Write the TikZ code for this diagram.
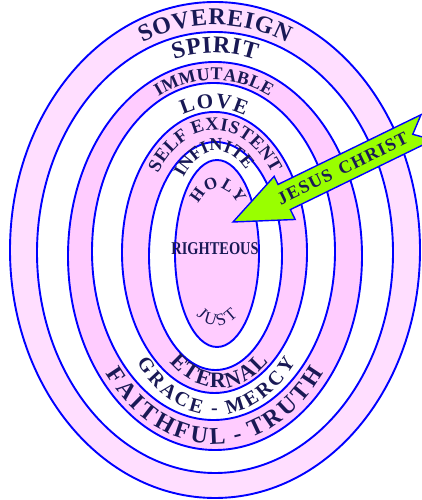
\documentclass[tikz,border=0pt]{standalone}
\usepackage{fontspec}
\setmainfont{Liberation Serif}
\usetikzlibrary{decorations.text}
\definecolor{lblue}{RGB}{0,0,255}
\definecolor{pinkA}{RGB}{255,222,255}
\definecolor{pinkB}{RGB}{255,204,255}
\definecolor{navy}{RGB}{25,25,85}
\definecolor{lime}{RGB}{153,255,0}
\newdimen\lsp
\newcommand\kk{\kern\lsp}
\newcommand\tfmt[2]{\color{navy}#1\fontsize{#2}{#2}\selectfont}
\tikzset{
  ring/.style={draw=lblue, line width=1.9pt},
  ctext/.style={decorate, decoration={text along path, text align=center, text={#1}}},
  arrowbox/.style={draw=lblue, fill=lime, line width=1.4pt, line join=miter},
  arrowtext/.style={text=navy, font=\bfseries\fontsize{18}{18}\selectfont\addfontfeatures{LetterSpace=7}, inner sep=0pt},
  midtext/.style={text=navy, font=\bfseries\fontsize{18}{18}\selectfont, inner sep=0pt}
}
\begin{document}
\begin{tikzpicture}[x=1pt,y=1pt]
\useasboundingbox (0,0) rectangle (422,500);
\clip (0,0) rectangle (422,500);
% rings
\path[ring, fill=pinkA] (215,250) ellipse [x radius=205pt, y radius=248pt];
\path[ring, fill=white] (215,247.5) ellipse [x radius=178pt, y radius=220.5pt];
\path[ring, fill=pinkB] (215,244) ellipse [x radius=147pt, y radius=194pt];
\path[ring, fill=white] (213.5,248.5) ellipse [x radius=121.5pt, y radius=168.5pt];
\path[ring, fill=pinkB] (214.5,247.5) ellipse [x radius=92.5pt, y radius=140.5pt];
\path[ring, fill=white] (215.5,244) ellipse [x radius=66.5pt, y radius=114pt];
\path[ring, fill=pinkB] (217,246.5) ellipse [x radius=42pt, y radius=93.5pt];
% top texts
\lsp=0.8pt
\path[ctext={|\tfmt{\bfseries}{24}|{S\kk}{O\kk}{V\kk}{E\kk}{R\kk}{E\kk}{I\kk}{G\kk}N}] (215-184,249) arc[start angle=180, end angle=0, x radius=184pt, y radius=226pt];
\lsp=0.6pt
\path[ctext={|\tfmt{\bfseries}{24}|{S\kk}{P\kk}{I\kk}{R\kk}{I\kk}T}] (215-155,246) arc[start angle=180, end angle=0, x radius=155pt, y radius=201pt];
\lsp=0.3pt
\path[ctext={|\tfmt{\bfseries}{18}|{I\kk}{M\kk}{M\kk}{U\kk}{T\kk}{A\kk}{B\kk}{L\kk}E}] (214-130,248) arc[start angle=180, end angle=0, x radius=130pt, y radius=172pt];
\lsp=1.5pt
\path[ctext={|\tfmt{\bfseries}{21}|{L\kk}{O\kk}{V\kk}E}] (214-98,248) arc[start angle=180, end angle=0, x radius=98pt, y radius=144pt];
\lsp=0.6pt
\path[ctext={|\tfmt{\bfseries}{18.5}|{S\kk}{E\kk}{L\kk}{F\kk} {E\kk}{X\kk}{I\kk}{S\kk}{T\kk}{E\kk}{N\kk}T}] (215-75,246) arc[start angle=180, end angle=0, x radius=75pt, y radius=124pt];
\lsp=0pt
\path[ctext={|\tfmt{\bfseries}{18}|{I\kk}{N\kk}{F\kk}{I\kk}{N\kk}{I\kk}{T\kk}E}] (217-48,246) arc[start angle=185, end angle=0, x radius=48pt, y radius=95pt];
\lsp=1pt
\path[ctext={|\tfmt{\bfseries}{17}|{H\kk}{O\kk}{L\kk}Y}] (218-30,246) arc[start angle=180, end angle=0, x radius=30pt, y radius=66pt];
% bottom texts
\lsp=3pt
\path[ctext={|\tfmt{\mdseries}{17}|{J\kk}{U\kk}{S\kk}T}] (217-40,246) arc[start angle=180, end angle=360, x radius=40pt, y radius=72pt];
\lsp=1.5pt
\path[ctext={|\tfmt{\bfseries}{22}|{E\kk}{T\kk}{E\kk}{R\kk}{N\kk}{A\kk}L}] (219-84,246) arc[start angle=180, end angle=360, x radius=84pt, y radius=134pt];
\lsp=3pt
\path[ctext={|\tfmt{\bfseries}{20}|{G\kk}{R\kk}{A\kk}{C\kk}{E\kk}{\kern7pt-\kern7pt\kk}{M\kk}{E\kk}{R\kk}{C\kk}Y}] (216-108,248) arc[start angle=180, end angle=360, x radius=108pt, y radius=163pt];
\lsp=3.3pt
\path[ctext={|\tfmt{\bfseries}{24}|{F\kk}{A\kk}{I\kk}{T\kk}{H\kk}{F\kk}{U\kk}{L\kk}{\kern6pt-\kern6pt\kk}{T\kk}{R\kk}{U\kk}{T\kk}H}] (215-140,246) arc[start angle=180, end angle=360, x radius=140pt, y radius=190pt];
% centre
\node[midtext, xscale=0.8] (righteous) at (215,251) {RIGHTEOUS};
% arrow
\begin{scope}[shift={(233,278)}, rotate=26]
  \draw[arrowbox] (0,0) coordinate (tip) -- (57,23) -- (57,14) -- (216,14) -- (200,0) -- (216,-14) -- (57,-14) -- (57,-25) -- cycle;
  \node[arrowtext, rotate=26] (jc) at (122,0) {JESUS\hspace{3pt} CHRIST};
\end{scope}
\end{tikzpicture}
\end{document}
